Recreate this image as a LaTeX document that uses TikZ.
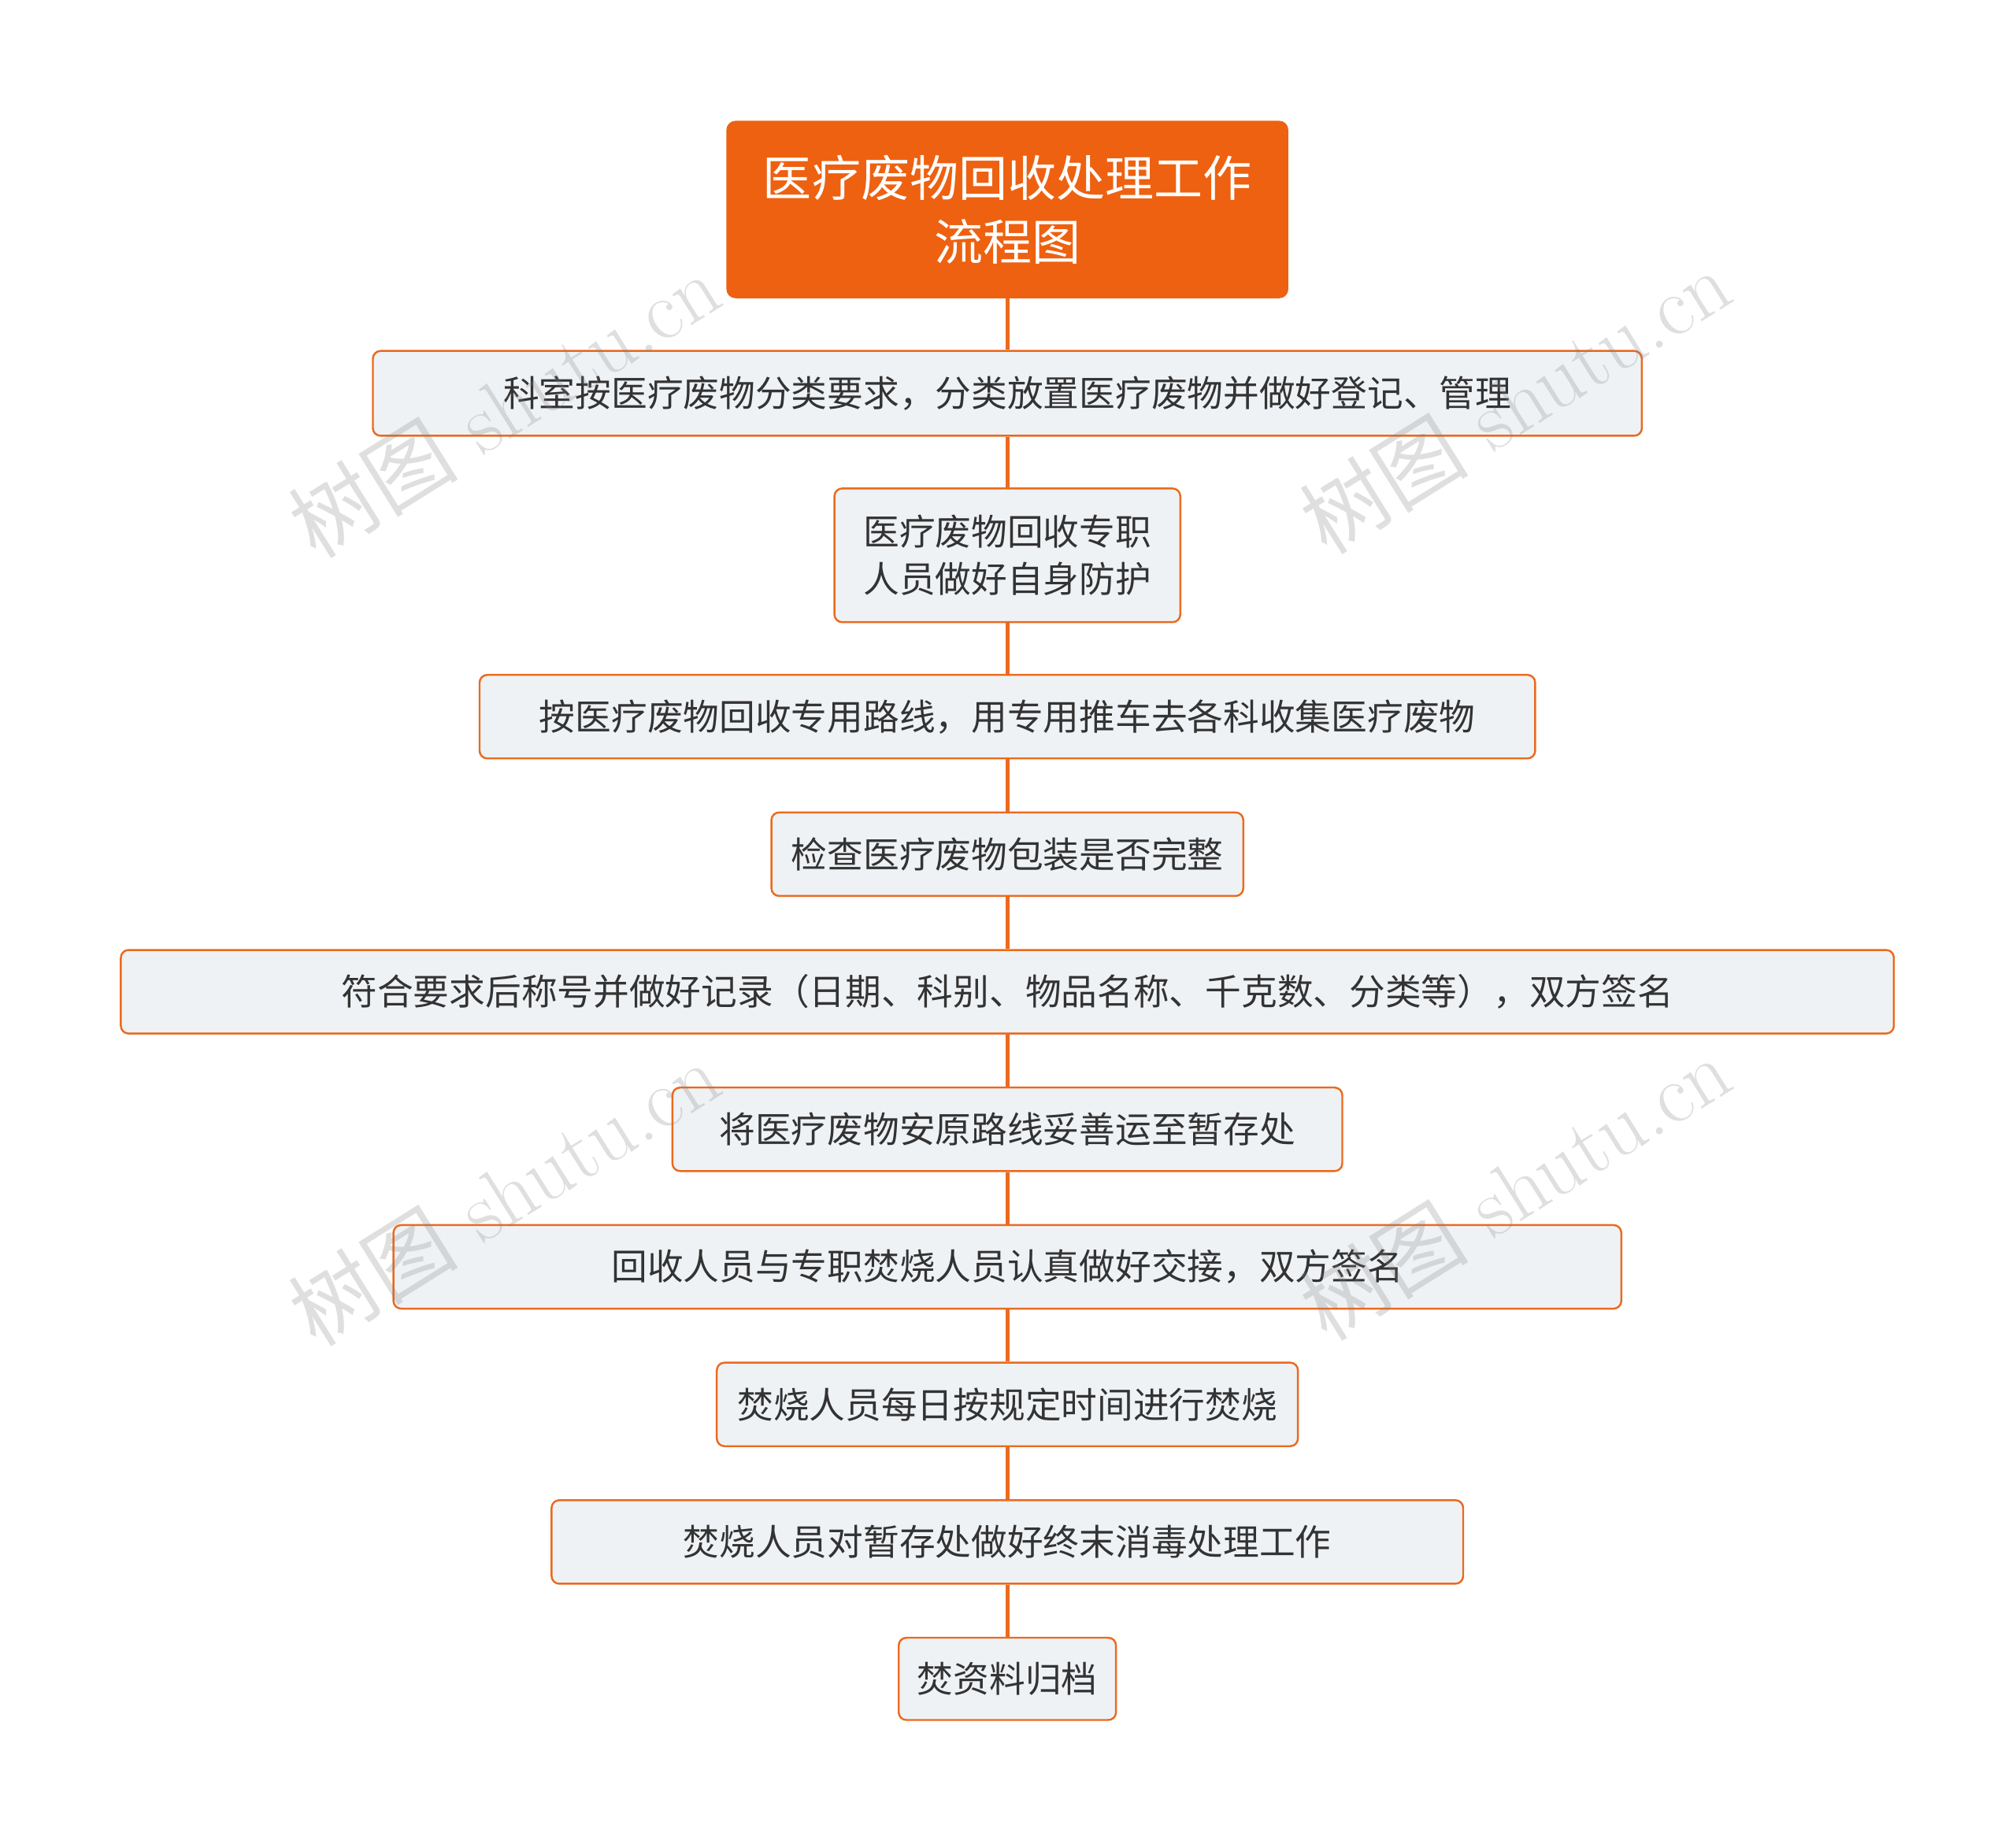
\documentclass[tikz,border=0pt]{standalone}
\usepackage{fontspec}
\newfontfamily\cjk{Noto Sans CJK SC}
\definecolor{orng}{HTML}{EB6A1E}
\definecolor{titlef}{HTML}{EE6110}
\definecolor{boxf}{HTML}{EFF2F5}
\definecolor{txt}{HTML}{333333}
\begin{document}
\begin{tikzpicture}[x=1pt,y=1pt,
  stepbox/.style={draw=orng,fill=boxf,line width=1.5pt,rounded corners=6pt,text=txt,font=\cjk\fontsize{28}{37}\selectfont,inner sep=0pt,align=center},
  titlebox/.style={fill=titlef,rounded corners=7pt,text=white,font=\cjk\fontsize{38}{50}\selectfont,inner sep=0pt,align=center},
  conn/.style={draw=orng,line width=3pt},
  wm/.style={text=gray,opacity=0.25,font=\fontsize{66}{68}\selectfont,rotate=32}]
\useasboundingbox (0,0) rectangle (1568,-1434);
\fill[white] (0,0) rectangle (1568,-1434);
\node[titlebox,minimum width=437pt,minimum height=138pt] (t) at (783.5,-163) {医疗废物回收处理工作\\流程图};
\node[stepbox,minimum width=987pt,minimum height=66pt] (n1) at (783.5,-306) {科室按医疗废物分类要求，分类放置医疗废物并做好登记、管理};
\node[stepbox,minimum width=269pt,minimum height=104pt] (n2) at (783.5,-432) {医疗废物回收专职\\人员做好自身防护};
\node[stepbox,minimum width=821pt,minimum height=65pt] (n3) at (783.5,-557.5) {按医疗废物回收专用路线，用专用推车去各科收集医疗废物};
\node[stepbox,minimum width=367pt,minimum height=65pt] (n4) at (783.5,-664.5) {检查医疗废物包装是否完整};
\node[stepbox,minimum width=1379pt,minimum height=65pt] (n5) at (783.5,-771.5) {符合要求后称号并做好记录（日期、科别、物品名称、千克数、分类等），双方签名};
\node[stepbox,minimum width=521pt,minimum height=65pt] (n6) at (783.5,-878.5) {将医疗废物安原路线妥善运至暂存处};
\node[stepbox,minimum width=955pt,minimum height=65pt] (n7) at (783.5,-985.5) {回收人员与专职焚烧人员认真做好交接，双方签名};
\node[stepbox,minimum width=452pt,minimum height=65pt] (n8) at (783.5,-1092.5) {焚烧人员每日按规定时间进行焚烧};
\node[stepbox,minimum width=709pt,minimum height=65pt] (n9) at (783.5,-1199.5) {焚烧人员对暂存处做好终末消毒处理工作};
\node[stepbox,minimum width=169pt,minimum height=64pt] (n10) at (783.5,-1306) {焚资料归档};
\foreach \a/\b in {t/n1,n1/n2,n2/n3,n3/n4,n4/n5,n5/n6,n6/n7,n7/n8,n8/n9,n9/n10}
  \draw[conn] (\a.south) -- (\b.north);
\foreach \x/\y in {392/-315,1178/-312,392/-928,1178/-924}
  \node[wm] at (\x,\y) {{\cjk 树图} shutu.cn};
\end{tikzpicture}
\end{document}
